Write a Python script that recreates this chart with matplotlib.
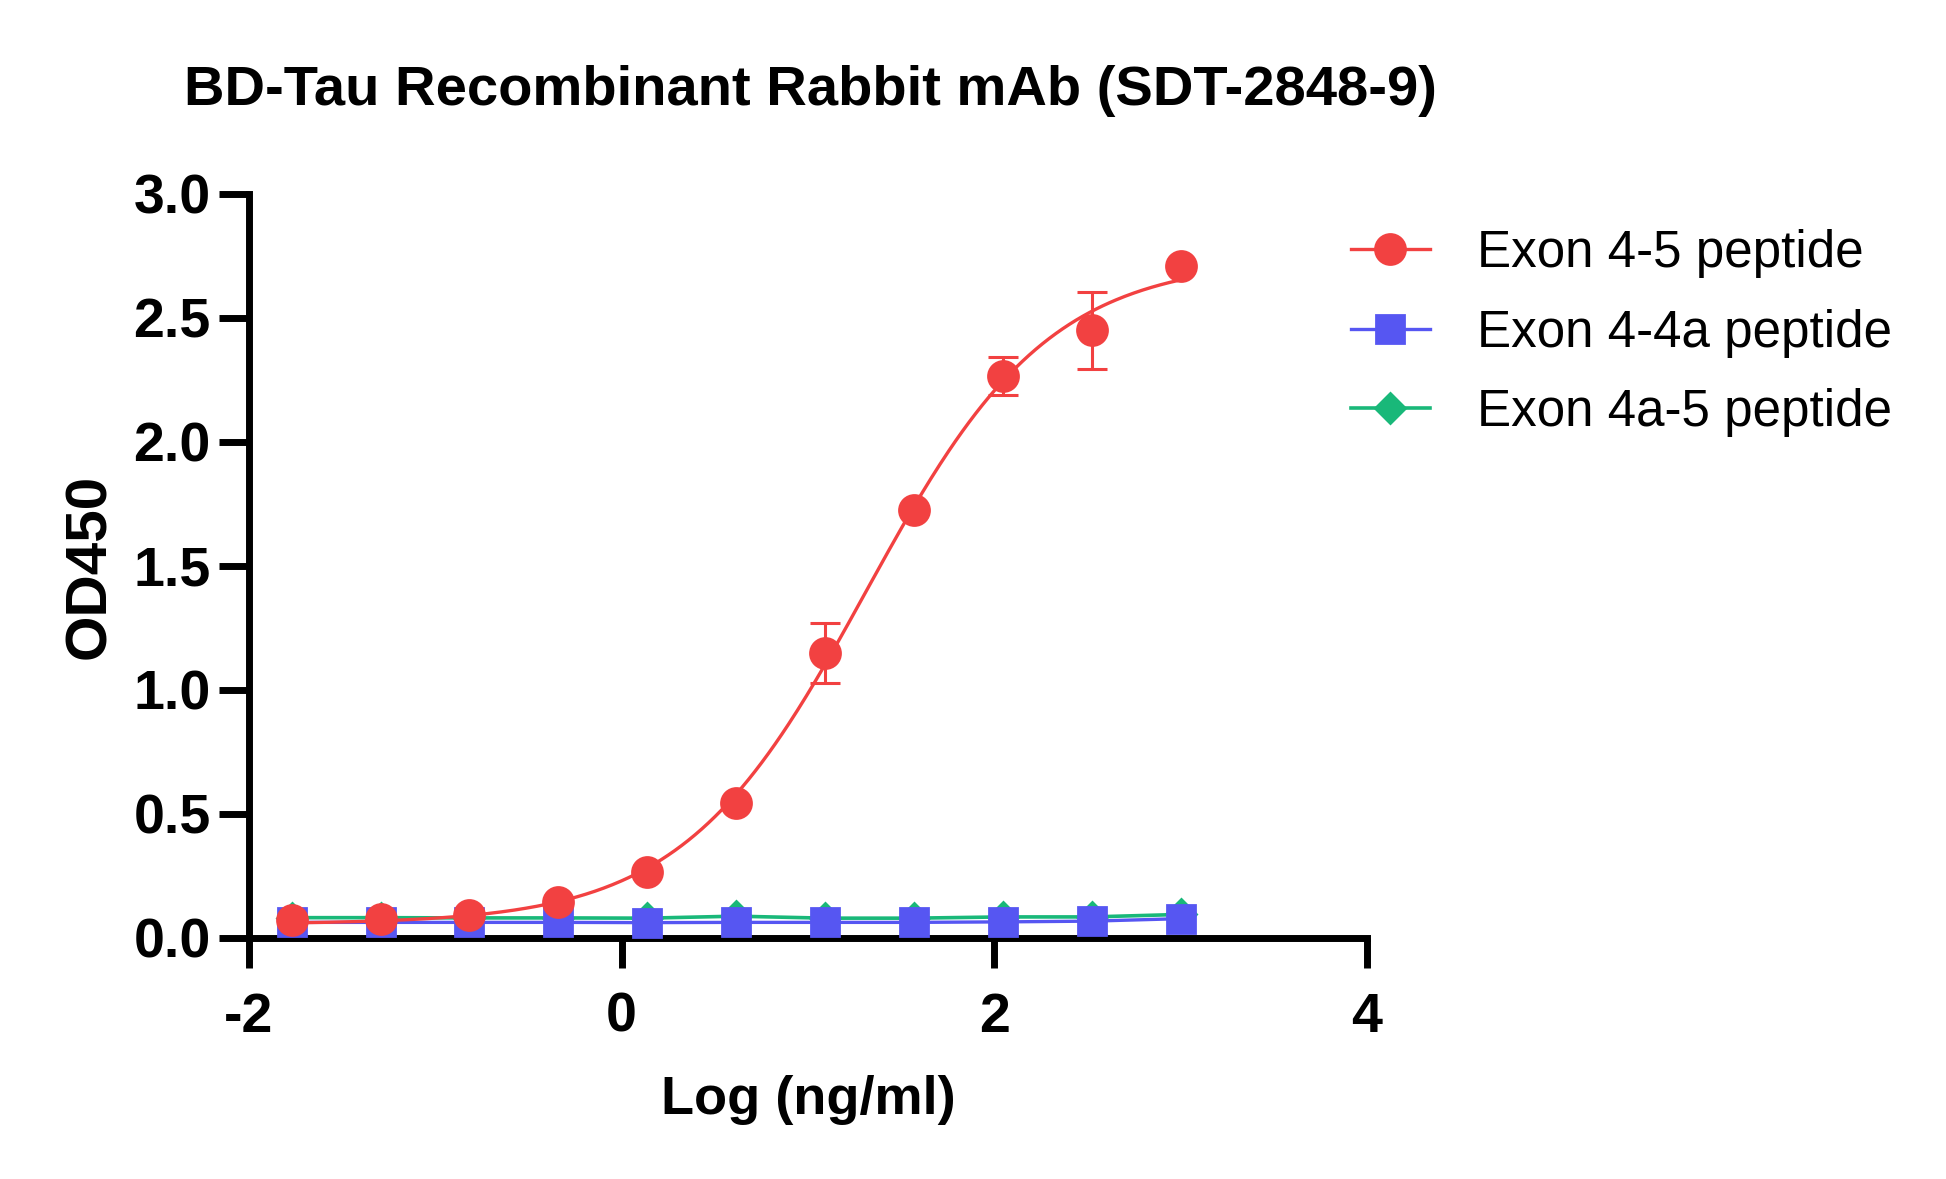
import numpy as np
import matplotlib
matplotlib.use("Agg")
import matplotlib.pyplot as plt
from matplotlib.lines import Line2D

# ---------------- data ----------------
log_conc = [-1.771, -1.294, -0.817, -0.340, 0.137, 0.614, 1.092, 1.569, 2.046, 2.523, 3.000]
exon45 = [0.073, 0.077, 0.093, 0.145, 0.266, 0.545, 1.150, 1.725, 2.265, 2.450, 2.710]
exon45_err = [0.0, 0.0, 0.0, 0.0, 0.0, 0.0, 0.120, 0.0, 0.077, 0.155, 0.0]
exon44a = [0.063, 0.063, 0.063, 0.063, 0.062, 0.063, 0.063, 0.063, 0.065, 0.068, 0.078]
exon4a5 = [0.082, 0.082, 0.081, 0.081, 0.080, 0.088, 0.080, 0.080, 0.085, 0.085, 0.095]

series_names = ["Exon 4-5 peptide", "Exon 4-4a peptide", "Exon 4a-5 peptide"]
title = "BD-Tau Recombinant Rabbit mAb (SDT-2848-9)"
xlabel = "Log (ng/ml)"
ylabel = "OD450"
xticks = [-2, 0, 2, 4]
xticklabels = ["-2", "0", "2", "4"]
yticks = [0.0, 0.5, 1.0, 1.5, 2.0, 2.5, 3.0]
yticklabels = ["0.0", "0.5", "1.0", "1.5", "2.0", "2.5", "3.0"]

RED = "#F24141"
BLUE = "#5656F2"
GREEN = "#19B879"

# ---------------- 4PL fit of the Exon 4-5 series ----------------
x = np.array(log_conc)
y = np.array(exon45)


def fourpl(p, xx):
    b, t, c, h = p
    return b + (t - b) / (1.0 + 10.0 ** ((c - xx) * h))


p = np.array([0.06, 2.8, 1.3, 1.0])
lam = 1e-2
for _ in range(500):
    r = y - fourpl(p, x)
    J = np.zeros((len(x), 4))
    for k in range(4):
        dp = np.zeros(4)
        dp[k] = 1e-6
        J[:, k] = (fourpl(p + dp, x) - fourpl(p - dp, x)) / 2e-6
    A = J.T @ J
    g = J.T @ r
    step = np.linalg.solve(A + lam * np.diag(np.diag(A)), g)
    pn = p + step
    if np.sum((y - fourpl(pn, x)) ** 2) < np.sum(r ** 2):
        p = pn
        lam *= 0.5
    else:
        lam *= 4.0

xfit = np.linspace(x.min(), x.max(), 400)
yfit = fourpl(p, xfit)

# ---------------- figure ----------------
plt.rcParams["font.family"] = ["Liberation Sans", "DejaVu Sans"]
DPI = 200
fig = plt.figure(figsize=(1946 / DPI, 1179 / DPI), dpi=DPI)
ax = fig.add_axes([249 / 1946, 1 - 938 / 1179, (1367 - 249) / 1946, (938 - 194) / 1179])

ax.plot(log_conc, exon4a5, color=GREEN, lw=1.3, marker="D", ms=7.6,
        mec=GREEN, mfc=GREEN, zorder=2, clip_on=False)
ax.plot(log_conc, exon44a, color=BLUE, lw=1.2, marker="s", ms=10.4,
        mec=BLUE, mfc=BLUE, zorder=3, clip_on=False)
ax.plot(xfit, yfit, color=RED, lw=1.2, zorder=4, clip_on=False)
err_mask = np.array(exon45_err) > 0
ax.errorbar(x[err_mask], y[err_mask], yerr=np.array(exon45_err)[err_mask], fmt="none",
            ecolor=RED, elinewidth=1.1, capsize=5.4, capthick=1.1, zorder=5)
ax.plot(log_conc, exon45, ls="none", marker="o", ms=10.8, mec=RED, mfc=RED,
        zorder=6, clip_on=False)

ax.set_xlim(-2, 4)
ax.set_ylim(0, 3.0)
ax.set_xticks(xticks)
ax.set_xticklabels(xticklabels)
ax.set_yticks(yticks)
ax.set_yticklabels(yticklabels)

for side in ["top", "right"]:
    ax.spines[side].set_visible(False)
for side in ["left", "bottom"]:
    ax.spines[side].set_linewidth(2.5)
    ax.spines[side].set_capstyle("projecting")

ax.tick_params(axis="both", which="major", direction="out", length=10.8, width=2.5,
               labelsize=20, color="black")
ax.tick_params(axis="y", pad=3)
ax.tick_params(axis="x", pad=8.6)
for lab in ax.get_xticklabels() + ax.get_yticklabels():
    lab.set_fontweight("bold")

ax.set_xlabel(xlabel, fontsize=19.5, fontweight="bold")
ax.set_ylabel(ylabel, fontsize=21, fontweight="bold")
ax.xaxis.set_label_coords(0.5, -0.1835)
ax.yaxis.set_label_coords(-0.118, 0.5)

fig.text(184 / 1946, 1 - 105 / 1179, title, fontsize=20.2, fontweight="bold",
         ha="left", va="baseline")

handles = [
    Line2D([], [], color=RED, lw=1.2, marker="o", ms=10.8, mec=RED, mfc=RED),
    Line2D([], [], color=BLUE, lw=1.2, marker="s", ms=10.4, mec=BLUE, mfc=BLUE),
    Line2D([], [], color=GREEN, lw=1.3, marker="D", ms=7.6, mec=GREEN, mfc=GREEN),
]
leg = fig.legend(handles, series_names, loc="upper left",
                 bbox_to_anchor=(1351 / 1946, 1 - 229 / 1179),
                 frameon=False, fontsize=18.4, handlelength=1.545, handletextpad=0.92,
                 labelspacing=0.60, borderpad=0, borderaxespad=0)

fig.savefig("out.png", dpi=DPI)
